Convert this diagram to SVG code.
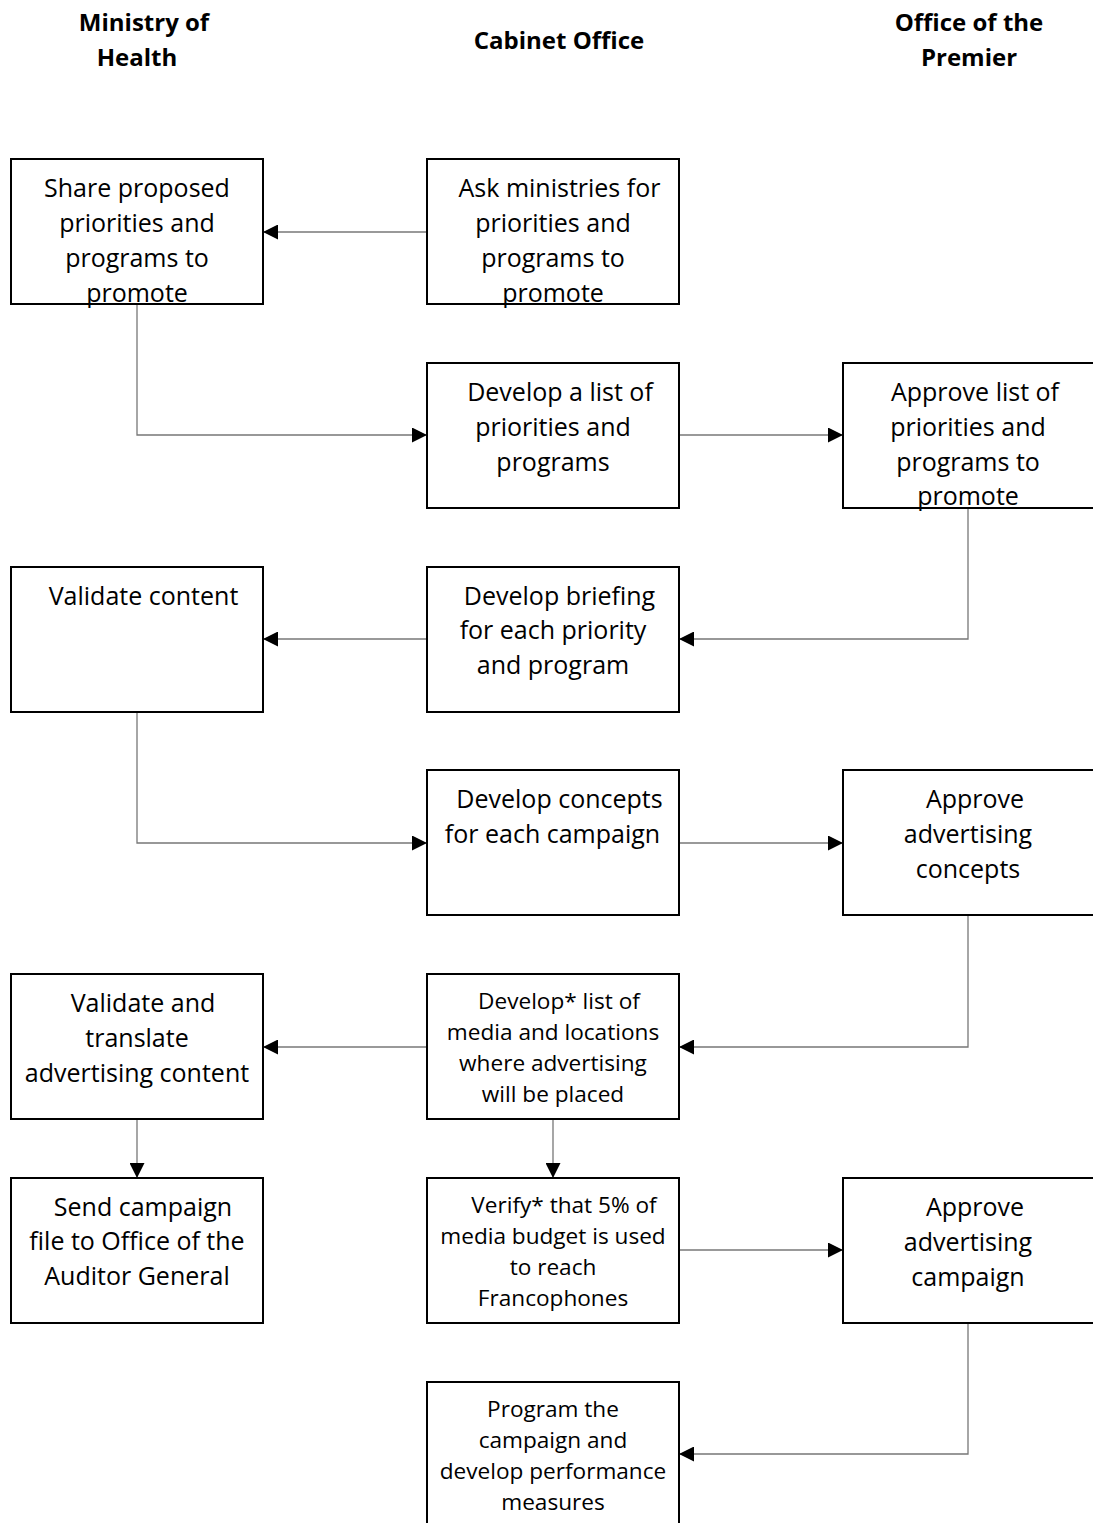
<svg xmlns="http://www.w3.org/2000/svg" width="1093" height="1523" viewBox="0 0 1093 1523">
<defs>
<style>
.box{fill:#fff;stroke:#000;stroke-width:2}
.t{font-family:"Open Sans","Liberation Sans",sans-serif;font-size:25px;fill:#000;text-anchor:middle}
.s{font-size:22.6px}
.h{font-family:"Open Sans","Liberation Sans",sans-serif;font-size:24px;font-weight:bold;fill:#000;text-anchor:middle}
.c{fill:none;stroke:#777;stroke-width:1.3}
</style>
<marker id="ar" viewBox="0 0 15 15" refX="15" refY="7.5" markerWidth="15" markerHeight="15" markerUnits="userSpaceOnUse" orient="auto">
<path d="M0,0 L15,7.5 L0,15 Z" fill="#000"/>
</marker>
</defs>
<rect width="1093" height="1523" fill="#fff"/>
<g id="headers">
<text class="h" x="144" y="31">Ministry of</text>
<text class="h" x="137" y="66">Health</text>
<text class="h" x="559" y="49">Cabinet Office</text>
<text class="h" x="969" y="31">Office of the</text>
<text class="h" x="969" y="66">Premier</text>
</g>
<g id="connectors">
<path class="c" d="M427,232 H263" marker-end="url(#ar)"/>
<path class="c" d="M137,304 V435 H427" marker-end="url(#ar)"/>
<path class="c" d="M679,435 H843" marker-end="url(#ar)"/>
<path class="c" d="M968,508 V639 H679" marker-end="url(#ar)"/>
<path class="c" d="M427,639 H263" marker-end="url(#ar)"/>
<path class="c" d="M137,712 V843 H427" marker-end="url(#ar)"/>
<path class="c" d="M679,843 H843" marker-end="url(#ar)"/>
<path class="c" d="M968,915 V1047 H679" marker-end="url(#ar)"/>
<path class="c" d="M427,1047 H263" marker-end="url(#ar)"/>
<path class="c" d="M137,1119 V1178" marker-end="url(#ar)"/>
<path class="c" d="M553,1119 V1178" marker-end="url(#ar)"/>
<path class="c" d="M679,1250 H843" marker-end="url(#ar)"/>
<path class="c" d="M968,1323 V1454 H679" marker-end="url(#ar)"/>
</g>
<g id="n1"><rect class="box" x="11" y="159" width="252" height="145"/>
<text class="t"><tspan x="137" y="197">Share proposed</tspan><tspan x="137" y="232">priorities and</tspan><tspan x="137" y="267">programs to</tspan><tspan x="137" y="302">promote</tspan></text></g>
<g id="n2"><rect class="box" x="427" y="159" width="252" height="145"/>
<text class="t"><tspan x="559.5" y="197">Ask ministries for</tspan><tspan x="553" y="232">priorities and</tspan><tspan x="553" y="267">programs to</tspan><tspan x="553" y="302">promote</tspan></text></g>
<g id="n3"><rect class="box" x="427" y="363" width="252" height="145"/>
<text class="t"><tspan x="560" y="401">Develop a list of</tspan><tspan x="553" y="436">priorities and</tspan><tspan x="553" y="471">programs</tspan></text></g>
<g id="n4"><rect class="box" x="843" y="363" width="254" height="145"/>
<text class="t"><tspan x="975" y="401">Approve list of</tspan><tspan x="968" y="436">priorities and</tspan><tspan x="968" y="471">programs to</tspan><tspan x="968" y="505">promote</tspan></text></g>
<g id="n5"><rect class="box" x="427" y="567" width="252" height="145"/>
<text class="t"><tspan x="559.5" y="605">Develop briefing</tspan><tspan x="553" y="639">for each priority</tspan><tspan x="553" y="674">and program</tspan></text></g>
<g id="n6"><rect class="box" x="11" y="567" width="252" height="145"/>
<text class="t"><tspan x="143.5" y="605">Validate content</tspan></text></g>
<g id="n7"><rect class="box" x="427" y="770" width="252" height="145"/>
<text class="t"><tspan x="559.5" y="808">Develop concepts</tspan><tspan x="552.5" y="843">for each campaign</tspan></text></g>
<g id="n8"><rect class="box" x="843" y="770" width="254" height="145"/>
<text class="t"><tspan x="975" y="808">Approve</tspan><tspan x="968" y="843">advertising</tspan><tspan x="968" y="878">concepts</tspan></text></g>
<g id="n9"><rect class="box" x="427" y="974" width="252" height="145"/>
<text class="t s"><tspan x="559" y="1009">Develop* list of</tspan><tspan x="553" y="1040">media and locations</tspan><tspan x="553" y="1071">where advertising</tspan><tspan x="553" y="1102">will be placed</tspan></text></g>
<g id="n10"><rect class="box" x="11" y="974" width="252" height="145"/>
<text class="t"><tspan x="143" y="1012">Validate and</tspan><tspan x="137" y="1047">translate</tspan><tspan x="137" y="1082">advertising content</tspan></text></g>
<g id="n11"><rect class="box" x="11" y="1178" width="252" height="145"/>
<text class="t"><tspan x="143" y="1216">Send campaign</tspan><tspan x="137" y="1250">file to Office of the</tspan><tspan x="137" y="1285">Auditor General</tspan></text></g>
<g id="n12"><rect class="box" x="427" y="1178" width="252" height="145"/>
<text class="t s"><tspan x="564" y="1213">Verify* that 5% of</tspan><tspan x="553" y="1244">media budget is used</tspan><tspan x="553" y="1275">to reach</tspan><tspan x="553" y="1306">Francophones</tspan></text></g>
<g id="n13"><rect class="box" x="843" y="1178" width="254" height="145"/>
<text class="t"><tspan x="975" y="1216">Approve</tspan><tspan x="968" y="1251">advertising</tspan><tspan x="968" y="1286">campaign</tspan></text></g>
<g id="n14"><rect class="box" x="427" y="1382" width="252" height="145"/>
<text class="t s"><tspan x="553" y="1417">Program the</tspan><tspan x="553" y="1448">campaign and</tspan><tspan x="553" y="1479">develop performance</tspan><tspan x="553" y="1510">measures</tspan></text></g>
</svg>
